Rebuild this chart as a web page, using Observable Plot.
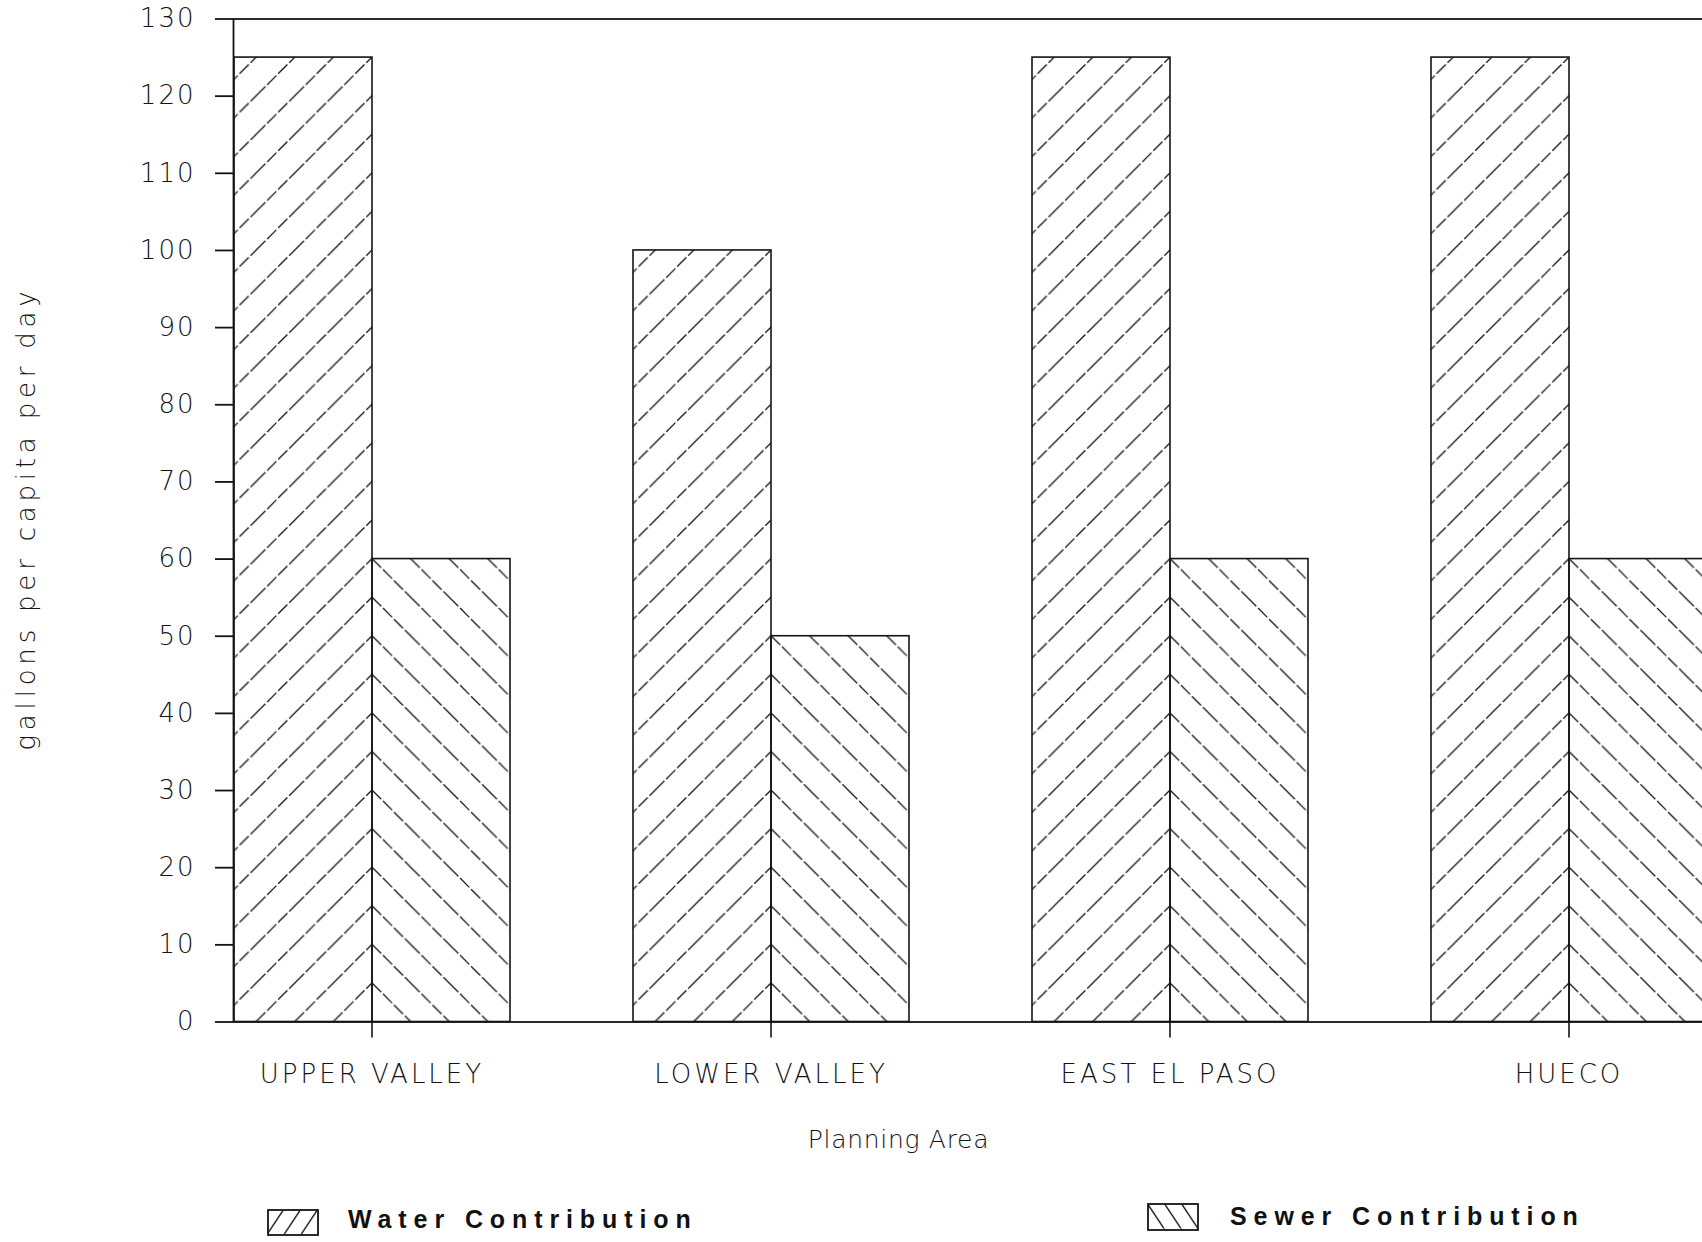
<!DOCTYPE html>
<html><head><meta charset="utf-8">
<script src="https://cdn.jsdelivr.net/npm/d3@7"></script>
<script src="https://cdn.jsdelivr.net/npm/@observablehq/plot@0.6"></script>
<style>
html,body{margin:0;padding:0;background:#fff;overflow:hidden;}
#wrap{position:relative;width:1702px;height:1242px;overflow:hidden;}
#legend{position:relative;width:1702px;height:62px;}
.leg{position:absolute;font-family:"Liberation Sans",Arial,sans-serif;font-weight:bold;font-size:25px;line-height:25px;letter-spacing:6.9px;color:#111;white-space:nowrap;}
.sw{position:absolute;display:block;}
</style></head><body><div id="wrap"></div>
<script>
// ---- data ----
const areas = ["UPPER VALLEY", "LOWER VALLEY", "EAST EL PASO", "HUECO"];
const seriesKeys = ["Water", "Sewer"];
const seriesLabels = ["Water Contribution", "Sewer Contribution"];
const waterValues = [125, 100, 125, 125];
const sewerValues = [60, 50, 60, 60];
const yTicks = [0, 10, 20, 30, 40, 50, 60, 70, 80, 90, 100, 110, 120, 130];
const xTitle = "Planning Area";
const yTitle = "gallons per capita per day";

const data = areas.flatMap((a, i) => [
  {area: a, series: "Water", value: waterValues[i]},
  {area: a, series: "Sewer", value: sewerValues[i]}
]);

const ink = "#141414";

const chart = Plot.plot({
  width: 1702,
  height: 1180,
  marginLeft: 233,
  marginRight: -5.5,
  marginTop: 18.5,
  marginBottom: 158.5,
  style: {fontFamily: '"DejaVu Sans", sans-serif', fontWeight: 200, color: ink, background: "#fff", letterSpacing: "2px"},
  fx: {domain: areas, paddingInner: 0.3065, paddingOuter: 0, label: null},
  x: {domain: seriesKeys, padding: 0, axis: null},
  y: {domain: [0, 130], axis: null},
  color: {type: "identity"},
  marks: [
    Plot.barY(data, {fx: "area", x: "series", y: "value", fill: d => `url(#hatch-${d.series})`, stroke: ink, strokeWidth: 1.6}),
    Plot.frame({facet: "super", stroke: ink, strokeWidth: 1.8}),
    Plot.axisY({ticks: yTicks, tickSize: 18, tickPadding: 20, fontSize: 26, label: null, strokeWidth: 1.8}),
    Plot.axisFx({anchor: "bottom", tickSize: 16, tickPadding: 27, fontSize: 26, label: null, strokeWidth: 1.6}),
    Plot.text([xTitle], {facet: "super", frameAnchor: "bottom", dx: -72, dy: 118, lineAnchor: "middle", textAnchor: "middle", fontSize: 25}),
    Plot.text([yTitle], {facet: "super", frameAnchor: "left", rotate: -90, dx: -207, dy: -2, lineAnchor: "middle", textAnchor: "middle", fontSize: 26})
  ]
});

document.getElementById("wrap").appendChild(chart);

// per-text letter spacing tweaks (style only)
chart.querySelectorAll("g[aria-label='fx-axis tick label'] text").forEach(t => t.style.letterSpacing = "3px");
chart.querySelectorAll("text").forEach(t => {
  if (t.textContent === yTitle) t.style.letterSpacing = "4.8px";
  if (t.textContent === xTitle) t.style.letterSpacing = "0.7px";
});

// ---- hatch patterns anchored at the group centre / baseline ----
const ys = chart.scale("y");
const p = ys.apply(0) - ys.apply(5);
const sewerRect = chart.querySelector('rect[fill="url(#hatch-Sewer)"]');
const cx = +sewerRect.getAttribute("x");
const y0 = +sewerRect.getAttribute("y") + +sewerRect.getAttribute("height");
const dash = 'stroke-dasharray="13 2.5"';
const defs = `
<pattern id="hatch-Water" patternUnits="userSpaceOnUse" x="${cx}" y="${y0}" width="${p}" height="${p}">
  <path d="M0,${p}L${p},0M-2,2L2,-2M${p-2},${p+2}L${p+2},${p-2}" stroke="${ink}" stroke-width="1.3" fill="none" ${dash}/>
</pattern>
<pattern id="hatch-Sewer" patternUnits="userSpaceOnUse" x="${cx}" y="${y0}" width="${p}" height="${p}">
  <path d="M0,0L${p},${p}M-2,${p-2}L2,${p+2}M${p-2},-2L${p+2},2" stroke="${ink}" stroke-width="1.3" fill="none" ${dash}/>
</pattern>`;
const defsEl = document.createElementNS("http://www.w3.org/2000/svg", "defs");
defsEl.innerHTML = defs;
chart.insertBefore(defsEl, chart.firstChild);

// ---- legend below the chart ----
const legend = document.createElement("div");
legend.id = "legend";
const q = 17;
legend.innerHTML = `
<svg class="sw" style="left:267px;top:29px" width="52" height="27" viewBox="0 0 52 27">
  <defs><pattern id="lg-Water" patternUnits="userSpaceOnUse" width="${q}" height="${q*1.5}" x="0" y="0">
    <path d="M0,${q*1.5}L${q},0" stroke="${ink}" stroke-width="1.4"/></pattern></defs>
  <rect x="1" y="1" width="50" height="25" fill="url(#lg-Water)" stroke="${ink}" stroke-width="1.8"/>
</svg>
<div class="leg" style="left:348px;top:26.5px">${seriesLabels[0]}</div>
<svg class="sw" style="left:1147px;top:23px" width="52" height="28" viewBox="0 0 52 28">
  <defs><pattern id="lg-Sewer" patternUnits="userSpaceOnUse" width="${q}" height="${q*1.5}" x="0" y="0">
    <path d="M0,0L${q},${q*1.5}" stroke="${ink}" stroke-width="1.4"/></pattern></defs>
  <rect x="1" y="1" width="50" height="26" fill="url(#lg-Sewer)" stroke="${ink}" stroke-width="1.8"/>
</svg>
<div class="leg" style="left:1230px;top:23.5px">${seriesLabels[1]}</div>`;
document.getElementById("wrap").appendChild(legend);
</script></body></html>
